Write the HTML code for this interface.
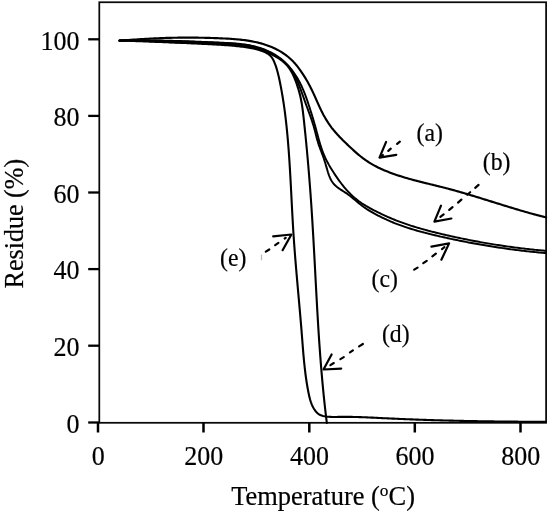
<!DOCTYPE html>
<html><head><meta charset="utf-8"><style>
html,body{margin:0;padding:0;background:#fff;width:550px;height:512px;overflow:hidden}
svg{display:block;will-change:transform}
text{font-family:"Liberation Serif",serif;fill:#000;stroke:#000;stroke-width:0.2px}
</style></head><body>
<svg width="550" height="512" viewBox="0 0 550 512">
<g stroke="#000" fill="none" stroke-linecap="butt">
<rect x="99.30" y="2.25" width="446.80" height="420.55" stroke-width="1.75" stroke="#080808"/>
<line x1="88.20" y1="39.30" x2="99.30" y2="39.30" stroke-width="2.30"/>
<line x1="88.20" y1="115.90" x2="99.30" y2="115.90" stroke-width="2.30"/>
<line x1="88.20" y1="192.50" x2="99.30" y2="192.50" stroke-width="2.30"/>
<line x1="88.20" y1="269.10" x2="99.30" y2="269.10" stroke-width="2.30"/>
<line x1="88.20" y1="345.70" x2="99.30" y2="345.70" stroke-width="2.30"/>
<line x1="88.20" y1="422.50" x2="99.30" y2="422.50" stroke-width="2.30"/>
<line x1="98.00" y1="422.80" x2="98.00" y2="432.50" stroke-width="2.50"/>
<line x1="203.50" y1="422.80" x2="203.50" y2="432.50" stroke-width="2.50"/>
<line x1="309.30" y1="422.80" x2="309.30" y2="432.50" stroke-width="2.50"/>
<line x1="414.80" y1="422.80" x2="414.80" y2="432.50" stroke-width="2.50"/>
<line x1="520.50" y1="422.80" x2="520.50" y2="432.50" stroke-width="2.50"/>
</g>
<g stroke="#000" fill="none" stroke-linecap="round" stroke-linejoin="round">
<path d="M119.54 40.86 L121.06 40.71 L122.58 40.57 L124.10 40.44 L125.62 40.30 L127.13 40.17 L128.65 40.05 L130.16 39.92 L131.68 39.80 L133.19 39.69 L134.70 39.57 L136.21 39.46 L137.71 39.36 L139.22 39.25 L140.73 39.15 L142.23 39.06 L143.74 38.96 L145.24 38.87 L146.75 38.78 L148.25 38.70 L149.75 38.62 L151.25 38.54 L152.76 38.47 L154.26 38.40 L155.76 38.33 L157.26 38.26 L158.76 38.20 L160.25 38.14 L161.75 38.09 L163.25 38.04 L164.75 37.99 L166.25 37.94 L167.75 37.90 L169.25 37.86 L170.74 37.82 L172.24 37.79 L173.74 37.76 L175.24 37.73 L176.74 37.71 L178.24 37.69 L179.74 37.67 L181.23 37.65 L182.73 37.64 L184.23 37.63 L185.73 37.63 L187.24 37.62 L188.74 37.62 L190.24 37.63 L191.74 37.63 L193.24 37.64 L194.75 37.66 L196.25 37.67 L197.76 37.69 L199.26 37.71 L200.77 37.74 L202.28 37.76 L203.79 37.79 L205.30 37.83 L206.81 37.86 L208.32 37.90 L209.83 37.94 L211.35 37.99 L212.86 38.03 L214.38 38.08 L215.90 38.14 L217.42 38.19 L218.94 38.25 L220.46 38.32 L221.98 38.38 L223.51 38.45 L225.03 38.52 L226.56 38.60 L228.08 38.68 L229.61 38.78 L231.13 38.87 L232.65 38.98 L234.18 39.09 L235.70 39.22 L237.21 39.35 L238.73 39.50 L240.24 39.65 L241.76 39.82 L243.26 40.00 L244.77 40.19 L246.27 40.40 L247.76 40.62 L249.26 40.86 L250.74 41.12 L252.22 41.39 L253.70 41.68 L255.17 41.98 L256.63 42.31 L258.09 42.65 L259.54 43.02 L260.99 43.40 L262.42 43.81 L263.85 44.24 L265.27 44.70 L266.69 45.17 L268.09 45.67 L269.49 46.20 L270.87 46.75 L272.25 47.33 L273.61 47.94 L274.97 48.57 L276.31 49.23 L277.65 49.92 L278.96 50.64 L280.27 51.39 L281.56 52.17 L282.83 52.98 L284.08 53.81 L285.31 54.68 L286.51 55.58 L287.70 56.51 L288.86 57.47 L289.99 58.46 L291.10 59.48 L292.18 60.53 L293.23 61.61 L294.26 62.72 L295.26 63.84 L296.24 65.00 L297.20 66.17 L298.14 67.36 L299.05 68.57 L299.95 69.79 L300.83 71.02 L301.69 72.27 L302.53 73.53 L303.36 74.80 L304.17 76.07 L304.96 77.36 L305.74 78.65 L306.50 79.96 L307.26 81.27 L307.99 82.58 L308.72 83.91 L309.43 85.24 L310.12 86.58 L310.81 87.92 L311.48 89.27 L312.15 90.63 L312.80 91.99 L313.44 93.36 L314.07 94.73 L314.70 96.11 L315.32 97.48 L315.93 98.86 L316.54 100.25 L317.16 101.63 L317.77 103.01 L318.38 104.39 L319.01 105.76 L319.63 107.13 L320.27 108.50 L320.92 109.86 L321.58 111.21 L322.26 112.55 L322.95 113.89 L323.65 115.22 L324.38 116.53 L325.12 117.84 L325.87 119.13 L326.65 120.42 L327.45 121.68 L328.26 122.94 L329.10 124.18 L329.96 125.41 L330.84 126.62 L331.74 127.82 L332.67 129.00 L333.61 130.16 L334.58 131.31 L335.57 132.45 L336.57 133.58 L337.59 134.69 L338.62 135.79 L339.66 136.89 L340.71 137.98 L341.77 139.06 L342.84 140.14 L343.91 141.21 L344.99 142.27 L346.08 143.33 L347.17 144.39 L348.27 145.44 L349.37 146.48 L350.47 147.52 L351.59 148.55 L352.70 149.57 L353.82 150.59 L354.95 151.60 L356.08 152.60 L357.23 153.59 L358.38 154.57 L359.54 155.53 L360.71 156.48 L361.90 157.41 L363.10 158.31 L364.31 159.21 L365.53 160.08 L366.77 160.93 L368.02 161.76 L369.29 162.57 L370.56 163.36 L371.85 164.13 L373.15 164.88 L374.47 165.61 L375.79 166.32 L377.13 167.01 L378.48 167.67 L379.83 168.32 L381.20 168.95 L382.58 169.56 L383.95 170.16 L385.34 170.74 L386.73 171.31 L388.12 171.86 L389.52 172.41 L390.93 172.94 L392.34 173.46 L393.75 173.97 L395.17 174.46 L396.59 174.95 L398.02 175.42 L399.45 175.89 L400.88 176.35 L402.32 176.80 L403.76 177.23 L405.20 177.67 L406.64 178.09 L408.09 178.51 L409.54 178.92 L411.00 179.32 L412.45 179.72 L413.91 180.11 L415.37 180.49 L416.83 180.88 L418.29 181.25 L419.76 181.63 L421.22 182.00 L422.69 182.37 L424.16 182.73 L425.63 183.09 L427.10 183.46 L428.57 183.82 L430.04 184.18 L431.51 184.53 L432.98 184.89 L434.45 185.25 L435.92 185.61 L437.39 185.98 L438.86 186.34 L440.32 186.70 L441.79 187.07 L443.26 187.44 L444.72 187.82 L446.18 188.20 L447.64 188.58 L449.10 188.97 L450.56 189.36 L452.02 189.75 L453.48 190.15 L454.93 190.56 L456.38 190.96 L457.83 191.37 L459.28 191.78 L460.73 192.20 L462.18 192.62 L463.63 193.04 L465.08 193.46 L466.52 193.89 L467.97 194.32 L469.41 194.75 L470.85 195.18 L472.29 195.62 L473.74 196.05 L475.18 196.49 L476.62 196.93 L478.06 197.38 L479.50 197.82 L480.93 198.26 L482.37 198.71 L483.81 199.16 L485.25 199.60 L486.69 200.05 L488.12 200.50 L489.56 200.95 L491.00 201.40 L492.43 201.85 L493.87 202.30 L495.31 202.75 L496.75 203.20 L498.18 203.65 L499.62 204.09 L501.06 204.54 L502.50 204.99 L503.94 205.44 L505.38 205.88 L506.82 206.32 L508.26 206.77 L509.70 207.21 L511.14 207.65 L512.58 208.09 L514.02 208.52 L515.47 208.96 L516.91 209.39 L518.36 209.82 L519.80 210.25 L521.25 210.67 L522.70 211.09 L524.15 211.51 L525.60 211.93 L527.05 212.34 L528.50 212.75 L529.96 213.16 L531.41 213.57 L532.87 213.97 L534.33 214.36 L535.79 214.76 L537.25 215.14 L538.71 215.53 L540.17 215.91 L541.64 216.29 L543.11 216.66 L544.58 217.03 L546.05 217.39" stroke-width="2.15"/>
<path d="M119.57 40.62 L121.09 40.59 L122.61 40.57 L124.12 40.56 L125.64 40.55 L127.15 40.55 L128.66 40.55 L130.17 40.56 L131.68 40.58 L133.19 40.60 L134.69 40.63 L136.20 40.66 L137.70 40.70 L139.21 40.74 L140.71 40.78 L142.21 40.83 L143.71 40.88 L145.22 40.93 L146.72 40.99 L148.22 41.05 L149.71 41.11 L151.21 41.17 L152.71 41.24 L154.21 41.31 L155.71 41.38 L157.21 41.45 L158.70 41.52 L160.20 41.59 L161.70 41.67 L163.20 41.74 L164.70 41.81 L166.19 41.89 L167.69 41.96 L169.19 42.03 L170.69 42.10 L172.19 42.17 L173.69 42.24 L175.19 42.30 L176.70 42.37 L178.20 42.43 L179.70 42.49 L181.21 42.55 L182.71 42.60 L184.22 42.65 L185.73 42.70 L187.24 42.74 L188.74 42.78 L190.26 42.82 L191.77 42.85 L193.28 42.89 L194.79 42.92 L196.30 42.95 L197.82 42.99 L199.33 43.02 L200.84 43.05 L202.36 43.08 L203.87 43.12 L205.39 43.16 L206.90 43.20 L208.41 43.24 L209.93 43.28 L211.44 43.33 L212.95 43.39 L214.46 43.44 L215.97 43.51 L217.48 43.58 L218.99 43.65 L220.49 43.73 L222.00 43.82 L223.50 43.91 L225.01 44.01 L226.51 44.12 L228.01 44.24 L229.51 44.37 L231.00 44.51 L232.50 44.65 L233.99 44.81 L235.48 44.98 L236.97 45.16 L238.45 45.35 L239.94 45.55 L241.42 45.76 L242.90 45.99 L244.37 46.23 L245.84 46.49 L247.31 46.76 L248.78 47.04 L250.24 47.34 L251.71 47.65 L253.16 47.98 L254.62 48.33 L256.07 48.69 L257.51 49.08 L258.95 49.49 L260.38 49.92 L261.81 50.37 L263.24 50.85 L264.65 51.36 L266.06 51.89 L267.46 52.46 L268.85 53.06 L270.24 53.69 L271.61 54.35 L272.97 55.05 L274.33 55.77 L275.67 56.52 L276.99 57.30 L278.29 58.11 L279.57 58.96 L280.82 59.84 L282.03 60.75 L283.21 61.70 L284.34 62.69 L285.42 63.72 L286.45 64.79 L287.43 65.90 L288.35 67.05 L289.23 68.24 L290.06 69.46 L290.84 70.71 L291.58 71.99 L292.29 73.30 L292.96 74.63 L293.59 75.99 L294.20 77.36 L294.77 78.75 L295.33 80.16 L295.86 81.58 L296.38 83.00 L296.87 84.44 L297.36 85.87 L297.82 87.32 L298.28 88.76 L298.71 90.21 L299.13 91.67 L299.52 93.13 L299.90 94.59 L300.25 96.06 L300.59 97.53 L300.90 99.00 L301.19 100.48 L301.47 101.95 L301.72 103.43 L301.97 104.91 L302.20 106.40 L302.41 107.88 L302.62 109.37 L302.81 110.86 L303.00 112.35 L303.18 113.84 L303.35 115.34 L303.52 116.83 L303.68 118.32 L303.85 119.82 L304.01 121.31 L304.17 122.81 L304.33 124.30 L304.48 125.80 L304.64 127.29 L304.80 128.79 L304.95 130.28 L305.10 131.78 L305.26 133.27 L305.41 134.77 L305.56 136.27 L305.71 137.76 L305.85 139.26 L306.00 140.76 L306.15 142.26 L306.29 143.75 L306.43 145.25 L306.58 146.75 L306.72 148.25 L306.86 149.75 L307.00 151.25 L307.13 152.74 L307.27 154.24 L307.41 155.74 L307.54 157.24 L307.68 158.74 L307.81 160.24 L307.94 161.74 L308.07 163.24 L308.20 164.74 L308.33 166.24 L308.46 167.74 L308.58 169.24 L308.71 170.74 L308.83 172.24 L308.96 173.75 L309.08 175.25 L309.20 176.75 L309.32 178.25 L309.44 179.75 L309.56 181.25 L309.68 182.75 L309.79 184.26 L309.91 185.76 L310.02 187.26 L310.14 188.76 L310.25 190.26 L310.36 191.77 L310.47 193.27 L310.58 194.77 L310.69 196.27 L310.79 197.78 L310.90 199.28 L311.01 200.78 L311.11 202.28 L311.22 203.79 L311.32 205.29 L311.42 206.79 L311.52 208.30 L311.62 209.80 L311.72 211.30 L311.82 212.81 L311.91 214.31 L312.01 215.81 L312.11 217.31 L312.20 218.82 L312.29 220.32 L312.39 221.82 L312.48 223.33 L312.57 224.83 L312.66 226.34 L312.75 227.84 L312.84 229.34 L312.93 230.85 L313.02 232.35 L313.11 233.85 L313.19 235.36 L313.28 236.86 L313.37 238.36 L313.45 239.87 L313.54 241.37 L313.62 242.88 L313.70 244.38 L313.79 245.88 L313.87 247.39 L313.95 248.89 L314.04 250.39 L314.12 251.90 L314.20 253.40 L314.28 254.91 L314.36 256.41 L314.44 257.91 L314.53 259.42 L314.61 260.92 L314.69 262.43 L314.77 263.93 L314.85 265.43 L314.93 266.94 L315.01 268.44 L315.09 269.94 L315.17 271.45 L315.25 272.95 L315.33 274.46 L315.41 275.96 L315.49 277.46 L315.56 278.97 L315.64 280.47 L315.72 281.97 L315.81 283.48 L315.89 284.98 L315.97 286.49 L316.05 287.99 L316.13 289.49 L316.21 291.00 L316.29 292.50 L316.37 294.00 L316.45 295.51 L316.54 297.01 L316.62 298.51 L316.70 300.02 L316.79 301.52 L316.87 303.02 L316.95 304.53 L317.04 306.03 L317.12 307.53 L317.21 309.04 L317.29 310.54 L317.38 312.04 L317.47 313.54 L317.56 315.05 L317.65 316.55 L317.73 318.05 L317.82 319.56 L317.91 321.06 L318.01 322.56 L318.10 324.06 L318.19 325.57 L318.28 327.07 L318.38 328.57 L318.47 330.07 L318.57 331.58 L318.67 333.08 L318.76 334.58 L318.86 336.08 L318.96 337.58 L319.06 339.09 L319.16 340.59 L319.26 342.09 L319.37 343.59 L319.47 345.09 L319.58 346.59 L319.68 348.09 L319.79 349.60 L319.90 351.10 L320.01 352.60 L320.12 354.10 L320.23 355.60 L320.35 357.10 L320.46 358.60 L320.58 360.10 L320.69 361.60 L320.81 363.10 L320.93 364.60 L321.05 366.10 L321.18 367.60 L321.30 369.10 L321.42 370.60 L321.55 372.10 L321.68 373.60 L321.81 375.10 L321.94 376.60 L322.07 378.10 L322.21 379.60 L322.34 381.10 L322.48 382.60 L322.62 384.10 L322.76 385.60 L322.90 387.10 L323.04 388.60 L323.19 390.09 L323.34 391.59 L323.48 393.09 L323.63 394.59 L323.79 396.09 L323.94 397.58 L324.10 399.08 L324.25 400.58 L324.41 402.08 L324.58 403.57 L324.74 405.07 L324.90 406.57 L325.07 408.07 L325.24 409.56 L325.41 411.06 L325.59 412.56 L325.76 414.05 L325.94 415.55 L326.12 417.04 L326.30 418.54 L326.48 420.04 L326.67 421.53 L326.86 423.03" stroke-width="2.10"/>
<path d="M119.61 40.48 L121.11 40.54 L122.62 40.59 L124.12 40.65 L125.62 40.70 L127.13 40.76 L128.63 40.81 L130.13 40.87 L131.64 40.93 L133.14 40.98 L134.65 41.04 L136.15 41.09 L137.65 41.15 L139.16 41.20 L140.66 41.26 L142.17 41.32 L143.67 41.37 L145.18 41.43 L146.68 41.49 L148.19 41.54 L149.69 41.60 L151.20 41.66 L152.70 41.72 L154.21 41.77 L155.71 41.83 L157.22 41.89 L158.72 41.95 L160.23 42.01 L161.73 42.07 L163.24 42.13 L164.74 42.19 L166.25 42.25 L167.75 42.31 L169.26 42.37 L170.76 42.43 L172.27 42.49 L173.77 42.56 L175.28 42.62 L176.78 42.68 L178.29 42.75 L179.79 42.81 L181.30 42.88 L182.80 42.94 L184.31 43.01 L185.81 43.07 L187.32 43.14 L188.82 43.21 L190.33 43.27 L191.83 43.34 L193.33 43.41 L194.84 43.48 L196.34 43.55 L197.84 43.62 L199.35 43.69 L200.85 43.77 L202.36 43.84 L203.86 43.91 L205.36 43.99 L206.86 44.06 L208.37 44.14 L209.87 44.21 L211.37 44.29 L212.87 44.37 L214.38 44.45 L215.88 44.53 L217.38 44.62 L218.88 44.70 L220.38 44.79 L221.88 44.89 L223.39 44.98 L224.89 45.09 L226.39 45.19 L227.89 45.30 L229.39 45.42 L230.89 45.54 L232.39 45.67 L233.89 45.81 L235.39 45.95 L236.89 46.10 L238.39 46.26 L239.89 46.42 L241.39 46.60 L242.89 46.78 L244.39 46.98 L245.88 47.18 L247.38 47.41 L248.87 47.65 L250.36 47.91 L251.84 48.19 L253.32 48.50 L254.79 48.84 L256.25 49.20 L257.71 49.59 L259.16 50.02 L260.59 50.49 L262.02 50.99 L263.44 51.53 L264.84 52.12 L266.20 52.77 L267.51 53.50 L268.74 54.32 L269.87 55.24 L270.89 56.29 L271.80 57.45 L272.61 58.71 L273.34 60.04 L273.99 61.42 L274.59 62.83 L275.15 64.26 L275.67 65.70 L276.16 67.14 L276.62 68.58 L277.05 70.03 L277.46 71.48 L277.85 72.94 L278.21 74.40 L278.56 75.87 L278.90 77.33 L279.22 78.80 L279.53 80.27 L279.84 81.74 L280.14 83.22 L280.43 84.69 L280.72 86.17 L281.00 87.64 L281.27 89.12 L281.54 90.60 L281.81 92.08 L282.06 93.56 L282.32 95.05 L282.57 96.53 L282.81 98.01 L283.05 99.50 L283.28 100.99 L283.51 102.47 L283.73 103.96 L283.95 105.45 L284.16 106.94 L284.37 108.43 L284.58 109.93 L284.78 111.42 L284.97 112.91 L285.16 114.41 L285.35 115.90 L285.53 117.40 L285.71 118.89 L285.89 120.39 L286.06 121.89 L286.22 123.38 L286.39 124.88 L286.55 126.38 L286.70 127.88 L286.86 129.38 L287.01 130.88 L287.15 132.38 L287.29 133.88 L287.43 135.38 L287.57 136.88 L287.70 138.38 L287.84 139.89 L287.96 141.39 L288.09 142.89 L288.21 144.39 L288.33 145.90 L288.45 147.40 L288.56 148.90 L288.68 150.40 L288.79 151.90 L288.90 153.41 L289.00 154.91 L289.11 156.41 L289.21 157.91 L289.31 159.42 L289.41 160.92 L289.51 162.42 L289.60 163.92 L289.70 165.43 L289.79 166.93 L289.88 168.43 L289.97 169.93 L290.06 171.44 L290.15 172.94 L290.23 174.44 L290.32 175.94 L290.40 177.45 L290.48 178.95 L290.57 180.45 L290.65 181.95 L290.73 183.45 L290.81 184.96 L290.89 186.46 L290.97 187.96 L291.04 189.46 L291.12 190.97 L291.20 192.47 L291.28 193.97 L291.35 195.47 L291.43 196.98 L291.51 198.48 L291.58 199.98 L291.66 201.48 L291.74 202.99 L291.82 204.49 L291.89 205.99 L291.97 207.49 L292.05 209.00 L292.13 210.50 L292.21 212.00 L292.29 213.50 L292.37 215.01 L292.46 216.51 L292.54 218.01 L292.62 219.51 L292.71 221.02 L292.79 222.52 L292.88 224.02 L292.97 225.53 L293.06 227.03 L293.15 228.53 L293.24 230.03 L293.34 231.54 L293.43 233.04 L293.53 234.54 L293.63 236.05 L293.73 237.55 L293.84 239.05 L293.94 240.55 L294.05 242.06 L294.15 243.56 L294.26 245.06 L294.37 246.57 L294.48 248.07 L294.60 249.57 L294.71 251.07 L294.83 252.58 L294.94 254.08 L295.06 255.58 L295.18 257.09 L295.30 258.59 L295.42 260.09 L295.54 261.59 L295.67 263.10 L295.79 264.60 L295.92 266.10 L296.04 267.60 L296.17 269.11 L296.30 270.61 L296.43 272.11 L296.55 273.61 L296.68 275.12 L296.81 276.62 L296.95 278.12 L297.08 279.62 L297.21 281.12 L297.34 282.63 L297.47 284.13 L297.60 285.63 L297.74 287.13 L297.87 288.63 L298.00 290.13 L298.14 291.63 L298.27 293.14 L298.41 294.64 L298.54 296.14 L298.67 297.64 L298.81 299.14 L298.94 300.64 L299.07 302.14 L299.21 303.64 L299.34 305.14 L299.47 306.64 L299.60 308.14 L299.74 309.64 L299.87 311.14 L300.00 312.64 L300.13 314.14 L300.26 315.64 L300.39 317.13 L300.52 318.63 L300.65 320.13 L300.77 321.63 L300.90 323.13 L301.03 324.62 L301.15 326.12 L301.28 327.62 L301.40 329.12 L301.52 330.61 L301.64 332.11 L301.76 333.61 L301.88 335.10 L302.00 336.60 L302.12 338.10 L302.24 339.59 L302.35 341.09 L302.47 342.58 L302.59 344.08 L302.70 345.57 L302.82 347.07 L302.94 348.56 L303.06 350.06 L303.19 351.55 L303.31 353.05 L303.44 354.54 L303.57 356.04 L303.71 357.53 L303.85 359.03 L303.99 360.53 L304.13 362.02 L304.28 363.52 L304.44 365.01 L304.60 366.51 L304.76 368.01 L304.93 369.50 L305.11 371.00 L305.29 372.50 L305.48 374.00 L305.68 375.50 L305.88 377.00 L306.09 378.50 L306.31 379.99 L306.53 381.50 L306.77 383.00 L307.01 384.50 L307.26 386.00 L307.52 387.50 L307.79 389.01 L308.07 390.51 L308.36 392.01 L308.66 393.52 L308.98 395.02 L309.32 396.51 L309.69 397.99 L310.08 399.46 L310.51 400.91 L310.98 402.34 L311.50 403.74 L312.07 405.12 L312.69 406.46 L313.37 407.76 L314.11 409.03 L314.92 410.26 L315.81 411.43 L316.78 412.53 L317.84 413.52 L319.01 414.36 L320.29 415.04 L321.66 415.56 L323.09 415.96 L324.56 416.27 L326.04 416.51 L327.54 416.69 L329.04 416.82 L330.55 416.90 L332.07 416.95 L333.59 416.97 L335.11 416.97 L336.64 416.95 L338.17 416.92 L339.70 416.90 L341.22 416.88 L342.75 416.86 L344.27 416.85 L345.79 416.85 L347.31 416.86 L348.83 416.87 L350.34 416.89 L351.86 416.91 L353.37 416.94 L354.88 416.97 L356.39 417.01 L357.90 417.06 L359.41 417.10 L360.92 417.15 L362.42 417.21 L363.93 417.26 L365.43 417.32 L366.93 417.39 L368.44 417.45 L369.94 417.52 L371.44 417.59 L372.94 417.66 L374.44 417.73 L375.94 417.81 L377.44 417.88 L378.94 417.95 L380.44 418.03 L381.94 418.10 L383.44 418.18 L384.94 418.25 L386.44 418.32 L387.95 418.40 L389.45 418.47 L390.95 418.54 L392.45 418.61 L393.95 418.67 L395.45 418.74 L396.95 418.81 L398.46 418.87 L399.96 418.94 L401.46 419.00 L402.96 419.06 L404.47 419.12 L405.97 419.18 L407.47 419.24 L408.98 419.30 L410.48 419.36 L411.98 419.42 L413.49 419.48 L414.99 419.53 L416.50 419.59 L418.00 419.64 L419.50 419.69 L421.01 419.75 L422.51 419.80 L424.02 419.85 L425.52 419.90 L427.03 419.95 L428.53 420.00 L430.04 420.04 L431.55 420.09 L433.05 420.14 L434.56 420.18 L436.06 420.23 L437.57 420.27 L439.07 420.31 L440.58 420.36 L442.09 420.40 L443.59 420.44 L445.10 420.48 L446.61 420.52 L448.11 420.56 L449.62 420.60 L451.12 420.63 L452.63 420.67 L454.14 420.71 L455.65 420.74 L457.15 420.77 L458.66 420.81 L460.17 420.84 L461.67 420.87 L463.18 420.91 L464.69 420.94 L466.19 420.97 L467.70 421.00 L469.21 421.03 L470.71 421.06 L472.22 421.08 L473.73 421.11 L475.24 421.14 L476.74 421.16 L478.25 421.19 L479.76 421.22 L481.26 421.24 L482.77 421.26 L484.28 421.29 L485.78 421.31 L487.29 421.33 L488.80 421.35 L490.30 421.37 L491.81 421.39 L493.32 421.41 L494.82 421.43 L496.33 421.45 L497.84 421.47 L499.34 421.49 L500.85 421.51 L502.36 421.52 L503.86 421.54 L505.37 421.56 L506.88 421.57 L508.38 421.59 L509.89 421.60 L511.39 421.61 L512.90 421.63 L514.41 421.64 L515.91 421.65 L517.42 421.66 L518.92 421.68 L520.43 421.69 L521.93 421.70 L523.44 421.71 L524.94 421.72 L526.45 421.73 L527.95 421.74 L529.46 421.75 L530.96 421.75 L532.46 421.76 L533.97 421.77 L535.47 421.78 L536.98 421.78 L538.48 421.79 L539.98 421.80 L541.49 421.80 L542.99 421.81 L544.49 421.81 L545.99 421.82" stroke-width="2.10"/>
<path d="M119.58 40.67 L121.09 40.65 L122.60 40.63 L124.11 40.61 L125.62 40.60 L127.13 40.59 L128.64 40.57 L130.14 40.57 L131.65 40.56 L133.16 40.56 L134.66 40.55 L136.17 40.56 L137.67 40.56 L139.18 40.56 L140.68 40.57 L142.19 40.58 L143.69 40.59 L145.19 40.60 L146.70 40.61 L148.20 40.63 L149.70 40.65 L151.20 40.67 L152.71 40.69 L154.21 40.71 L155.71 40.74 L157.21 40.77 L158.71 40.80 L160.22 40.83 L161.72 40.86 L163.22 40.89 L164.72 40.92 L166.22 40.96 L167.72 41.00 L169.22 41.04 L170.72 41.08 L172.22 41.12 L173.72 41.16 L175.23 41.21 L176.73 41.25 L178.23 41.30 L179.73 41.35 L181.23 41.40 L182.73 41.45 L184.23 41.50 L185.74 41.55 L187.24 41.60 L188.74 41.66 L190.24 41.71 L191.74 41.77 L193.25 41.82 L194.75 41.88 L196.25 41.94 L197.76 42.00 L199.26 42.06 L200.77 42.12 L202.27 42.18 L203.78 42.24 L205.28 42.31 L206.79 42.37 L208.29 42.43 L209.80 42.50 L211.31 42.56 L212.81 42.63 L214.32 42.69 L215.83 42.76 L217.34 42.82 L218.85 42.89 L220.36 42.96 L221.87 43.02 L223.38 43.09 L224.89 43.16 L226.40 43.24 L227.91 43.32 L229.42 43.40 L230.93 43.50 L232.44 43.60 L233.94 43.71 L235.44 43.83 L236.94 43.96 L238.44 44.10 L239.93 44.26 L241.42 44.43 L242.91 44.61 L244.40 44.82 L245.88 45.04 L247.35 45.28 L248.82 45.54 L250.29 45.82 L251.75 46.12 L253.20 46.45 L254.65 46.80 L256.10 47.18 L257.53 47.58 L258.96 48.01 L260.38 48.46 L261.80 48.95 L263.21 49.47 L264.61 50.02 L266.00 50.60 L267.38 51.22 L268.75 51.86 L270.11 52.53 L271.46 53.23 L272.79 53.96 L274.10 54.72 L275.40 55.51 L276.68 56.32 L277.95 57.16 L279.19 58.02 L280.41 58.91 L281.61 59.82 L282.78 60.75 L283.92 61.72 L285.04 62.71 L286.12 63.74 L287.17 64.79 L288.18 65.89 L289.15 67.02 L290.08 68.18 L290.96 69.39 L291.81 70.62 L292.62 71.89 L293.39 73.19 L294.13 74.50 L294.84 75.83 L295.52 77.18 L296.17 78.54 L296.80 79.91 L297.41 81.29 L298.00 82.67 L298.57 84.06 L299.13 85.46 L299.67 86.87 L300.21 88.27 L300.74 89.68 L301.25 91.09 L301.77 92.50 L302.28 93.91 L302.78 95.32 L303.29 96.74 L303.79 98.15 L304.29 99.56 L304.79 100.98 L305.29 102.39 L305.80 103.80 L306.31 105.21 L306.82 106.62 L307.34 108.03 L307.86 109.44 L308.38 110.85 L308.90 112.27 L309.42 113.68 L309.93 115.09 L310.43 116.51 L310.93 117.93 L311.43 119.35 L311.91 120.77 L312.38 122.20 L312.84 123.63 L313.29 125.07 L313.72 126.51 L314.13 127.96 L314.53 129.42 L314.92 130.87 L315.29 132.33 L315.66 133.80 L316.03 135.26 L316.40 136.72 L316.78 138.18 L317.18 139.63 L317.59 141.08 L318.02 142.52 L318.47 143.95 L318.95 145.37 L319.46 146.78 L319.97 148.19 L320.50 149.59 L321.04 150.99 L321.57 152.39 L322.11 153.79 L322.63 155.20 L323.14 156.61 L323.63 158.03 L324.11 159.45 L324.57 160.88 L325.02 162.31 L325.46 163.75 L325.89 165.20 L326.32 166.65 L326.74 168.11 L327.16 169.57 L327.58 171.03 L328.02 172.49 L328.49 173.93 L328.99 175.35 L329.55 176.75 L330.15 178.12 L330.81 179.45 L331.52 180.74 L332.31 181.97 L333.16 183.16 L334.09 184.28 L335.10 185.33 L336.19 186.32 L337.34 187.26 L338.54 188.15 L339.79 189.01 L341.06 189.85 L342.35 190.67 L343.65 191.49 L344.94 192.32 L346.22 193.16 L347.46 194.03 L348.69 194.92 L349.88 195.83 L351.06 196.76 L352.23 197.70 L353.38 198.65 L354.52 199.61 L355.66 200.57 L356.80 201.52 L357.94 202.48 L359.09 203.42 L360.25 204.35 L361.42 205.27 L362.61 206.17 L363.82 207.05 L365.05 207.90 L366.29 208.74 L367.55 209.56 L368.83 210.36 L370.12 211.14 L371.42 211.91 L372.72 212.66 L374.04 213.40 L375.37 214.12 L376.70 214.84 L378.04 215.53 L379.38 216.22 L380.73 216.90 L382.08 217.56 L383.44 218.22 L384.80 218.86 L386.16 219.49 L387.53 220.11 L388.90 220.72 L390.28 221.32 L391.66 221.90 L393.04 222.48 L394.43 223.04 L395.83 223.59 L397.23 224.13 L398.63 224.66 L400.04 225.18 L401.45 225.69 L402.86 226.19 L404.28 226.68 L405.70 227.16 L407.13 227.63 L408.56 228.10 L409.99 228.55 L411.42 229.00 L412.86 229.43 L414.30 229.86 L415.75 230.29 L417.19 230.70 L418.64 231.11 L420.09 231.51 L421.54 231.91 L423.00 232.29 L424.45 232.68 L425.91 233.05 L427.37 233.43 L428.83 233.79 L430.30 234.15 L431.76 234.51 L433.23 234.87 L434.69 235.21 L436.16 235.56 L437.63 235.90 L439.10 236.24 L440.57 236.58 L442.04 236.91 L443.51 237.24 L444.98 237.57 L446.45 237.89 L447.92 238.21 L449.39 238.53 L450.86 238.85 L452.33 239.16 L453.81 239.47 L455.28 239.78 L456.75 240.08 L458.23 240.38 L459.70 240.68 L461.18 240.98 L462.65 241.27 L464.13 241.56 L465.61 241.85 L467.08 242.13 L468.56 242.42 L470.04 242.69 L471.51 242.97 L472.99 243.24 L474.47 243.52 L475.95 243.78 L477.43 244.05 L478.91 244.31 L480.39 244.57 L481.87 244.83 L483.36 245.08 L484.84 245.33 L486.32 245.58 L487.80 245.82 L489.29 246.07 L490.77 246.30 L492.26 246.54 L493.74 246.77 L495.23 247.01 L496.71 247.23 L498.20 247.46 L499.69 247.68 L501.17 247.90 L502.66 248.12 L504.15 248.33 L505.64 248.54 L507.13 248.75 L508.62 248.95 L510.11 249.16 L511.60 249.36 L513.09 249.55 L514.58 249.75 L516.07 249.94 L517.56 250.12 L519.06 250.31 L520.55 250.49 L522.04 250.67 L523.54 250.85 L525.03 251.02 L526.53 251.19 L528.02 251.36 L529.52 251.52 L531.02 251.69 L532.51 251.84 L534.01 252.00 L535.51 252.15 L537.01 252.30 L538.51 252.45 L540.01 252.60 L541.51 252.74 L543.01 252.88 L544.51 253.01 L546.01 253.15" stroke-width="1.95"/>
<path d="M119.58 40.36 L121.09 40.34 L122.60 40.33 L124.11 40.31 L125.62 40.30 L127.13 40.29 L128.64 40.28 L130.15 40.27 L131.66 40.27 L133.16 40.26 L134.67 40.26 L136.18 40.27 L137.69 40.27 L139.19 40.27 L140.70 40.28 L142.21 40.29 L143.71 40.30 L145.22 40.31 L146.72 40.33 L148.23 40.34 L149.73 40.36 L151.24 40.38 L152.74 40.40 L154.24 40.42 L155.75 40.45 L157.25 40.47 L158.75 40.50 L160.26 40.53 L161.76 40.56 L163.26 40.59 L164.77 40.63 L166.27 40.66 L167.77 40.70 L169.28 40.73 L170.78 40.77 L172.28 40.81 L173.79 40.85 L175.29 40.90 L176.79 40.94 L178.29 40.99 L179.80 41.03 L181.30 41.08 L182.80 41.13 L184.31 41.18 L185.81 41.23 L187.32 41.28 L188.82 41.34 L190.32 41.39 L191.83 41.45 L193.33 41.50 L194.84 41.56 L196.34 41.62 L197.85 41.68 L199.35 41.74 L200.86 41.80 L202.37 41.86 L203.87 41.92 L205.38 41.98 L206.89 42.05 L208.39 42.11 L209.90 42.18 L211.41 42.24 L212.92 42.31 L214.43 42.38 L215.94 42.44 L217.45 42.51 L218.96 42.58 L220.47 42.65 L221.98 42.72 L223.49 42.79 L225.01 42.87 L226.52 42.95 L228.03 43.03 L229.54 43.12 L231.05 43.22 L232.55 43.32 L234.06 43.44 L235.56 43.56 L237.06 43.70 L238.56 43.84 L240.06 44.00 L241.55 44.18 L243.04 44.37 L244.53 44.57 L246.01 44.80 L247.49 45.04 L248.96 45.30 L250.43 45.58 L251.89 45.89 L253.35 46.21 L254.80 46.56 L256.25 46.93 L257.69 47.33 L259.13 47.76 L260.56 48.21 L261.98 48.70 L263.39 49.21 L264.80 49.75 L266.20 50.33 L267.59 50.93 L268.96 51.57 L270.33 52.23 L271.68 52.93 L273.01 53.66 L274.33 54.41 L275.62 55.20 L276.90 56.02 L278.15 56.87 L279.38 57.74 L280.58 58.65 L281.76 59.58 L282.91 60.55 L284.03 61.54 L285.13 62.55 L286.20 63.60 L287.25 64.66 L288.27 65.75 L289.26 66.87 L290.23 68.01 L291.18 69.16 L292.10 70.34 L293.00 71.54 L293.88 72.76 L294.73 73.99 L295.56 75.25 L296.37 76.52 L297.15 77.80 L297.91 79.10 L298.65 80.41 L299.37 81.73 L300.06 83.07 L300.74 84.42 L301.39 85.77 L302.03 87.14 L302.64 88.52 L303.23 89.90 L303.81 91.29 L304.37 92.68 L304.91 94.09 L305.44 95.49 L305.96 96.91 L306.47 98.32 L306.97 99.74 L307.46 101.17 L307.94 102.59 L308.41 104.02 L308.89 105.45 L309.35 106.87 L309.82 108.31 L310.28 109.74 L310.73 111.17 L311.18 112.61 L311.63 114.04 L312.07 115.48 L312.51 116.92 L312.94 118.36 L313.37 119.80 L313.79 121.25 L314.21 122.70 L314.62 124.15 L315.03 125.60 L315.43 127.05 L315.83 128.51 L316.22 129.96 L316.61 131.42 L317.00 132.88 L317.39 134.34 L317.78 135.80 L318.17 137.25 L318.57 138.71 L318.98 140.16 L319.39 141.61 L319.82 143.05 L320.26 144.49 L320.70 145.93 L321.17 147.35 L321.65 148.78 L322.14 150.19 L322.66 151.59 L323.20 152.99 L323.76 154.38 L324.34 155.76 L324.95 157.12 L325.58 158.48 L326.24 159.82 L326.92 161.16 L327.62 162.49 L328.34 163.80 L329.07 165.12 L329.83 166.42 L330.60 167.71 L331.38 169.00 L332.18 170.29 L332.99 171.56 L333.81 172.83 L334.64 174.10 L335.48 175.36 L336.33 176.62 L337.19 177.87 L338.06 179.12 L338.94 180.35 L339.83 181.57 L340.74 182.79 L341.65 183.99 L342.58 185.18 L343.53 186.36 L344.49 187.52 L345.46 188.66 L346.46 189.79 L347.46 190.90 L348.49 192.00 L349.53 193.07 L350.60 194.12 L351.68 195.16 L352.77 196.17 L353.89 197.16 L355.02 198.13 L356.17 199.08 L357.34 200.01 L358.52 200.92 L359.73 201.81 L360.95 202.68 L362.18 203.52 L363.44 204.34 L364.71 205.14 L365.99 205.93 L367.29 206.69 L368.60 207.44 L369.91 208.17 L371.24 208.89 L372.58 209.59 L373.93 210.29 L375.28 210.97 L376.63 211.65 L377.99 212.32 L379.35 212.98 L380.71 213.63 L382.08 214.28 L383.44 214.92 L384.81 215.55 L386.19 216.18 L387.56 216.79 L388.94 217.40 L390.32 218.00 L391.71 218.59 L393.10 219.17 L394.49 219.74 L395.89 220.29 L397.29 220.84 L398.69 221.38 L400.10 221.91 L401.51 222.43 L402.92 222.94 L404.34 223.44 L405.76 223.94 L407.19 224.42 L408.61 224.90 L410.04 225.36 L411.47 225.82 L412.91 226.28 L414.35 226.72 L415.78 227.16 L417.23 227.59 L418.67 228.02 L420.12 228.43 L421.56 228.85 L423.01 229.25 L424.47 229.65 L425.92 230.05 L427.38 230.44 L428.83 230.82 L430.29 231.20 L431.75 231.58 L433.21 231.95 L434.67 232.31 L436.13 232.68 L437.60 233.04 L439.06 233.39 L440.53 233.74 L441.99 234.09 L443.46 234.44 L444.93 234.78 L446.40 235.12 L447.87 235.46 L449.33 235.79 L450.80 236.13 L452.28 236.45 L453.75 236.78 L455.22 237.10 L456.69 237.42 L458.16 237.73 L459.64 238.05 L461.11 238.36 L462.59 238.66 L464.06 238.96 L465.54 239.26 L467.02 239.56 L468.49 239.86 L469.97 240.15 L471.45 240.43 L472.93 240.72 L474.41 241.00 L475.89 241.28 L477.37 241.55 L478.85 241.83 L480.33 242.09 L481.81 242.36 L483.30 242.62 L484.78 242.88 L486.26 243.14 L487.75 243.39 L489.23 243.64 L490.72 243.89 L492.21 244.14 L493.69 244.38 L495.18 244.61 L496.67 244.85 L498.15 245.08 L499.64 245.31 L501.13 245.54 L502.62 245.76 L504.11 245.98 L505.60 246.19 L507.09 246.41 L508.58 246.62 L510.08 246.82 L511.57 247.03 L513.06 247.23 L514.55 247.43 L516.05 247.62 L517.54 247.81 L519.04 248.00 L520.53 248.18 L522.03 248.37 L523.52 248.54 L525.02 248.72 L526.51 248.89 L528.01 249.06 L529.51 249.23 L531.01 249.39 L532.50 249.55 L534.00 249.71 L535.50 249.86 L537.00 250.01 L538.50 250.16 L540.00 250.30 L541.50 250.44 L543.00 250.58 L544.50 250.72 L546.00 250.85" stroke-width="1.95"/>
</g>
<g stroke="#000" fill="none" stroke-linecap="round" stroke-linejoin="round">
<path d="M386.10 141.90 L379.50 157.60 L396.30 154.80" stroke-width="2.20"/><line x1="380.05" y1="157.17" x2="382.85" y2="155.03" stroke-width="2.20"/><line x1="388.32" y1="150.93" x2="390.78" y2="148.67" stroke-width="2.20"/><line x1="397.14" y1="143.95" x2="399.86" y2="141.65" stroke-width="2.20"/>
<path d="M441.00 205.70 L434.40 221.70 L451.40 218.50" stroke-width="2.20"/><line x1="440.35" y1="216.87" x2="443.65" y2="214.33" stroke-width="2.20"/><line x1="449.24" y1="209.95" x2="452.56" y2="207.15" stroke-width="2.20"/><line x1="458.02" y1="202.63" x2="461.38" y2="199.57" stroke-width="2.20"/><line x1="467.33" y1="194.74" x2="470.17" y2="192.26" stroke-width="2.20"/><line x1="475.22" y1="187.84" x2="478.58" y2="184.86" stroke-width="2.20"/>
<path d="M431.40 246.60 L449.10 243.40 L441.40 259.70" stroke-width="2.20"/><line x1="441.96" y1="249.08" x2="444.44" y2="247.22" stroke-width="2.20"/><line x1="432.35" y1="256.37" x2="435.85" y2="253.63" stroke-width="2.20"/><line x1="423.28" y1="263.21" x2="426.72" y2="260.89" stroke-width="2.20"/><line x1="414.20" y1="269.65" x2="417.60" y2="267.65" stroke-width="2.20"/>
<path d="M331.60 354.50 L323.50 369.50 L341.20 368.60" stroke-width="2.20"/><line x1="330.40" y1="365.14" x2="333.80" y2="363.06" stroke-width="2.20"/><line x1="340.40" y1="359.15" x2="343.80" y2="357.15" stroke-width="2.20"/><line x1="349.98" y1="352.32" x2="352.92" y2="350.38" stroke-width="2.20"/><line x1="359.09" y1="346.42" x2="362.91" y2="343.98" stroke-width="2.20"/>
<path d="M273.20 236.40 L291.40 234.50 L282.60 250.20" stroke-width="2.20"/><line x1="284.69" y1="238.52" x2="285.71" y2="237.88" stroke-width="2.20"/><line x1="275.18" y1="245.11" x2="278.42" y2="242.89" stroke-width="2.20"/><line x1="265.80" y1="251.63" x2="269.30" y2="249.47" stroke-width="2.20"/>
<line x1="261.5" y1="255.2" x2="261.5" y2="259.8" stroke="#bbb" stroke-width="1.2"/>
</g>
<text transform="translate(79.60,49.60) scale(1.000,1.040)" text-anchor="end" font-size="26.0">100</text>
<text transform="translate(79.60,126.20) scale(1.000,1.040)" text-anchor="end" font-size="26.0">80</text>
<text transform="translate(79.60,202.80) scale(1.000,1.040)" text-anchor="end" font-size="26.0">60</text>
<text transform="translate(79.60,279.40) scale(1.000,1.040)" text-anchor="end" font-size="26.0">40</text>
<text transform="translate(79.60,356.00) scale(1.000,1.040)" text-anchor="end" font-size="26.0">20</text>
<text transform="translate(79.60,432.80) scale(1.000,1.040)" text-anchor="end" font-size="26.0">0</text>
<text transform="translate(98.30,464.60) scale(1.000,1.040)" text-anchor="middle" font-size="26.0">0</text>
<text transform="translate(203.80,464.60) scale(1.000,1.040)" text-anchor="middle" font-size="26.0">200</text>
<text transform="translate(309.60,464.60) scale(1.000,1.040)" text-anchor="middle" font-size="26.0">400</text>
<text transform="translate(415.10,464.60) scale(1.000,1.040)" text-anchor="middle" font-size="26.0">600</text>
<text transform="translate(520.80,464.60) scale(1.000,1.040)" text-anchor="middle" font-size="26.0">800</text>
<text transform="translate(323.05,504.60) scale(1.018,1.030)" text-anchor="middle" font-size="26.0">Temperature (<tspan font-size="17" dy="-8.6">o</tspan><tspan dy="8.6">C)</tspan></text>
<text transform="translate(23.00,223.65) rotate(-90) scale(1.004,1.030)" text-anchor="middle" font-size="26.0">Residue (%)</text>
<text transform="translate(429.65,141.40) scale(0.950,1.000)" text-anchor="middle" font-size="25.0">(a)</text>
<text transform="translate(496.60,169.60) scale(0.950,1.000)" text-anchor="middle" font-size="25.0">(b)</text>
<text transform="translate(384.65,286.80) scale(0.950,1.000)" text-anchor="middle" font-size="25.0">(c)</text>
<text transform="translate(395.75,341.60) scale(0.950,1.000)" text-anchor="middle" font-size="25.0">(d)</text>
<text transform="translate(233.25,265.60) scale(0.950,1.000)" text-anchor="middle" font-size="25.0">(e)</text>
</svg>
</body></html>
